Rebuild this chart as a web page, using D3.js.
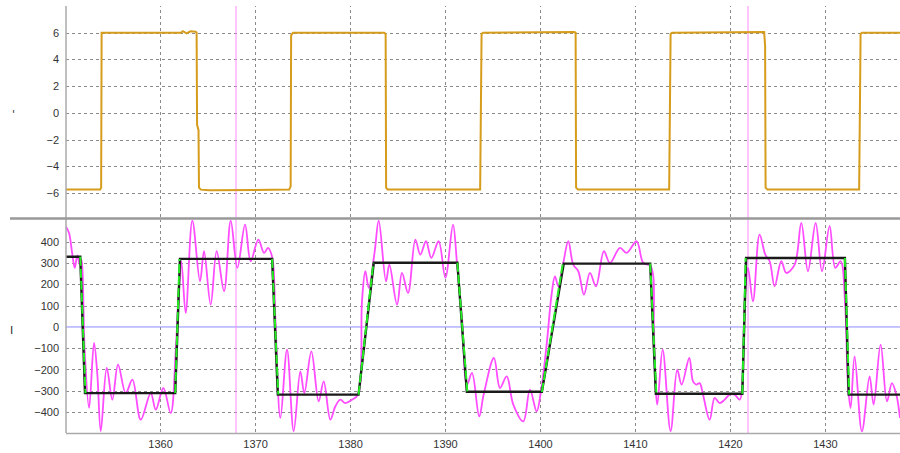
<!DOCTYPE html>
<html>
<head>
<meta charset="utf-8">
<script src="https://d3js.org/d3.v7.min.js"></script>
<style>
  body { margin: 0; background: #fff; }
  svg { display: block; font-family: "DejaVu Sans", sans-serif; }
</style>
</head>
<body>
<div id="chart"><svg width="900" height="453"></svg></div>
<script>
// x ticks (time)
var xTicks = [1360, 1370, 1380, 1390, 1400, 1410, 1420, 1430];
var topTicks = [-6, -4, -2, 0, 2, 4, 6];
var botTicks = [-400, -300, -200, -100, 0, 100, 200, 300, 400];
var markers = [1368.0, 1421.9];

// top panel: square wave [t, value]
var orange = [
  [1350.1,-5.75],[1353.7,-5.75],[1353.8,-5.6],[1353.85,6.0],[1362.2,6.0],[1362.4,6.12],[1362.8,5.95],
  [1363.2,6.1],[1363.75,6.08],[1363.85,6.0],[1363.9,-0.9],[1364.05,-1.3],[1364.1,-5.6],[1364.3,-5.75],
  [1365.2,-5.8],[1373.6,-5.75],[1373.75,-5.5],[1373.8,5.8],[1374.0,6.0],[1383.6,6.0],[1383.75,5.9],
  [1383.8,-5.6],[1383.95,-5.75],[1393.7,-5.75],[1393.85,5.9],[1394.0,6.0],[1403.6,6.05],[1403.75,6.0],
  [1403.8,-5.6],[1404.0,-5.75],[1413.6,-5.75],[1413.75,5.9],[1413.9,6.0],[1423.6,6.05],[1423.7,5.0],
  [1423.75,-5.6],[1423.95,-5.75],[1433.6,-5.75],[1433.75,5.9],[1433.9,6.0],[1437.9,6.0]
];

// bottom panel: reference trajectory (black) and model (green)
var refLine = [
  [1350.1,330],[1351.6,330],[1352.1,-311],[1361.6,-311],[1362.1,320],[1371.8,320],[1372.4,-318],
  [1380.9,-318],[1382.5,302],[1391.3,302],[1392.3,-305],[1400.2,-305],[1402.5,298],[1411.6,298],
  [1412.2,-314],[1421.3,-314],[1421.7,324],[1432.1,324],[1432.5,-318],[1437.9,-318]
];
var modelLine = [
  [1350.1,330],[1351.6,330],[1352.15,-311],[1361.6,-311],[1362.05,320],[1371.8,320],[1372.45,-318],
  [1380.9,-318],[1382.45,302],[1391.3,302],[1392.35,-305],[1400.2,-305],[1402.4,298],[1411.6,298],
  [1412.25,-314],[1421.3,-314],[1421.65,324],[1432.1,324],[1432.55,-318],[1437.9,-318]
];

// bottom panel: measured signal (magenta)
var measured = [
  [1350.07,474],[1350.42,442],[1350.77,340],[1351.02,278],[1351.3,337],[1351.55,293],[1351.72,317],
  [1352.07,-115],[1352.53,-381],[1353.05,-75],[1353.4,-224],[1353.76,-490],[1354.39,-193],[1354.98,-342],
  [1355.58,-177],[1356.39,-311],[1357.09,-248],[1357.97,-436],[1359.02,-311],[1359.55,-389],[1360.35,-287],
  [1361.12,-405],[1361.65,-115],[1362.0,199],[1362.24,309],[1362.7,66],[1363.4,500],[1364.21,215],
  [1364.63,356],[1365.33,105],[1365.96,356],[1366.74,168],[1367.44,500],[1368.14,278],[1368.95,481],
  [1369.54,309],[1370.35,411],[1370.95,348],[1371.37,372],[1371.82,325],[1372.14,42],[1372.67,-428],
  [1373.37,-107],[1374.07,-490],[1374.77,-209],[1375.19,-311],[1375.93,-115],[1376.7,-350],[1377.23,-256],
  [1377.93,-436],[1378.46,-373],[1378.98,-342],[1379.51,-358],[1380.21,-342],[1380.84,-318],[1381.26,121],
  [1381.61,262],[1381.97,184],[1382.6,356],[1383.02,500],[1383.79,215],[1384.14,293],[1384.95,105],
  [1385.47,254],[1386.11,160],[1386.88,411],[1387.4,340],[1388.0,403],[1388.56,325],[1389.33,403],
  [1390.04,231],[1390.84,481],[1391.26,301],[1391.79,42],[1392.32,-271],[1392.84,-216],[1393.6,-420],
  [1394.07,-318],[1395.15,-146],[1395.79,-287],[1396.49,-232],[1397.19,-365],[1398.24,-444],[1398.94,-295],
  [1399.65,-397],[1400.1,-303],[1400.7,-83],[1401.22,152],[1401.57,238],[1401.93,191],[1402.45,301],
  [1402.98,403],[1403.5,293],[1404.03,262],[1404.63,152],[1405.26,254],[1405.89,191],[1406.73,356],
  [1407.36,301],[1408.42,372],[1409.12,348],[1410.17,403],[1410.87,301],[1411.65,285],[1412.0,-36],
  [1412.35,-365],[1412.91,-107],[1413.75,-490],[1414.45,-201],[1414.91,-271],[1415.72,-146],[1416.11,-256],
  [1416.46,-271],[1416.81,-264],[1417.16,-318],[1417.86,-436],[1418.39,-334],[1418.91,-358],[1419.44,-342],
  [1419.97,-318],[1420.49,-318],[1421.02,-342],[1421.54,121],[1421.9,278],[1422.42,121],[1423.12,434],
  [1423.72,340],[1424.18,309],[1424.7,191],[1425.4,309],[1425.93,254],[1426.81,293],[1427.51,489],
  [1428.21,262],[1429.02,489],[1429.69,262],[1430.49,474],[1431.09,278],[1431.65,309],[1432.14,89],
  [1432.42,-271],[1432.7,-381],[1433.12,-138],[1433.89,-491],[1434.7,-232],[1435.12,-365],[1435.86,-83],
  [1436.53,-350],[1437.05,-264],[1437.51,-318],[1437.9,-428]
];

var svg = d3.select("#chart svg");
var L = 66, R = 900;

var x = d3.scaleLinear().domain([1350.1, 1437.9]).range([L, R]);
var yTop = d3.scaleLinear().domain([-7.8, 8.0]).range([217, 6]);
var yBot = d3.scaleLinear().domain([-494, 503]).range([432, 220]);

// clip paths for each panel
var defs = svg.append("defs");
defs.append("clipPath").attr("id", "clipTop").append("rect")
  .attr("x", L).attr("y", 6).attr("width", R - L).attr("height", 211);
defs.append("clipPath").attr("id", "clipBot").append("rect")
  .attr("x", L).attr("y", 220).attr("width", R - L).attr("height", 212);

function grid(g) {
  g.selectAll(".domain").remove();
  g.selectAll("line").attr("stroke", "#8a8a8a").attr("stroke-dasharray", "3,3")
    .attr("shape-rendering", "crispEdges");
}

// grids
svg.append("g").attr("transform", "translate(0,217)")
  .call(d3.axisBottom(x).tickValues(xTicks).tickSize(-211).tickFormat(""))
  .call(grid);
svg.append("g").attr("transform", "translate(0,432)")
  .call(d3.axisBottom(x).tickValues(xTicks).tickSize(-212).tickFormat(""))
  .call(grid);
svg.append("g").attr("transform", "translate(" + L + ",0)")
  .call(d3.axisLeft(yTop).tickValues(topTicks).tickSize(-(R - L)).tickFormat(""))
  .call(grid);
svg.append("g").attr("transform", "translate(" + L + ",0)")
  .call(d3.axisLeft(yBot).tickValues(botTicks.filter(function(d) { return d != 0; }))
    .tickSize(-(R - L)).tickFormat(""))
  .call(grid);

// zero line in bottom panel
svg.append("line")
  .attr("x1", L).attr("x2", R).attr("y1", yBot(0)).attr("y2", yBot(0))
  .attr("stroke", "#8c8cff").attr("stroke-width", 1);

// tick labels
function labels(g) {
  g.selectAll(".domain").remove();
  g.selectAll("text").attr("fill", "#333").style("font-size", "11px");
}
svg.append("g").attr("transform", "translate(" + L + ",0)")
  .call(d3.axisLeft(yTop).tickValues(topTicks).tickSize(0).tickPadding(7))
  .call(labels);
svg.append("g").attr("transform", "translate(" + L + ",0)")
  .call(d3.axisLeft(yBot).tickValues(botTicks).tickSize(0).tickPadding(7))
  .call(labels);
svg.append("g").attr("transform", "translate(0,440)")
  .call(d3.axisBottom(x).tickValues(xTicks).tickSize(0).tickPadding(0).tickFormat(d3.format("d")))
  .call(labels);

// axis titles
svg.append("text").attr("x", 12).attr("y", 118).attr("fill", "#333")
  .style("font-size", "11px").text("'");
svg.append("text").attr("x", 10).attr("y", 334).attr("fill", "#333")
  .style("font-size", "11px").text("I");

// marker lines
svg.selectAll(".marker").data(markers).enter().append("line")
  .attr("class", "marker")
  .attr("x1", function(d) { return x(d); }).attr("x2", function(d) { return x(d); })
  .attr("y1", 6).attr("y2", 433)
  .attr("stroke", "#ff8cff").attr("stroke-width", 1);

// top series
var lineTop = d3.line().x(function(d) { return x(d[0]); }).y(function(d) { return yTop(d[1]); });
svg.append("path").datum(orange)
  .attr("clip-path", "url(#clipTop)")
  .attr("d", lineTop).attr("fill", "none")
  .attr("stroke", "#d69c1c").attr("stroke-width", 2);

// bottom series
var lineBot = d3.line().x(function(d) { return x(d[0]); }).y(function(d) { return yBot(d[1]); });
var gBot = svg.append("g").attr("clip-path", "url(#clipBot)");
gBot.append("path").datum(measured)
  .attr("d", lineBot.curve(d3.curveCatmullRom.alpha(0.5))).attr("fill", "none")
  .attr("stroke", "#ff4cff").attr("stroke-width", 1.8);
lineBot.curve(d3.curveLinear);
gBot.append("path").datum(refLine)
  .attr("d", lineBot).attr("fill", "none")
  .attr("stroke", "#1a1a1a").attr("stroke-width", 2.4);

// model drawn over the reference only where it moves between levels
var slopes = d3.pairs(modelLine).filter(function(p) { return p[0][1] != p[1][1]; });
gBot.selectAll(".slope").data(slopes).enter().append("path")
  .attr("class", "slope")
  .attr("d", function(p) { return lineBot(p); })
  .attr("fill", "none")
  .attr("stroke", "#22ee22").attr("stroke-width", 2)
  .attr("stroke-dasharray", "9,3");

// frame lines
svg.append("line").attr("x1", L).attr("x2", L).attr("y1", 6).attr("y2", 433)
  .attr("stroke", "#aaa").attr("stroke-width", 1.5);
svg.append("line").attr("x1", 10).attr("x2", R).attr("y1", 218.5).attr("y2", 218.5)
  .attr("stroke", "#999").attr("stroke-width", 2.5);
svg.append("line").attr("x1", L).attr("x2", R).attr("y1", 433.5).attr("y2", 433.5)
  .attr("stroke", "#aaa").attr("stroke-width", 1.5);
</script>
</body>
</html>
